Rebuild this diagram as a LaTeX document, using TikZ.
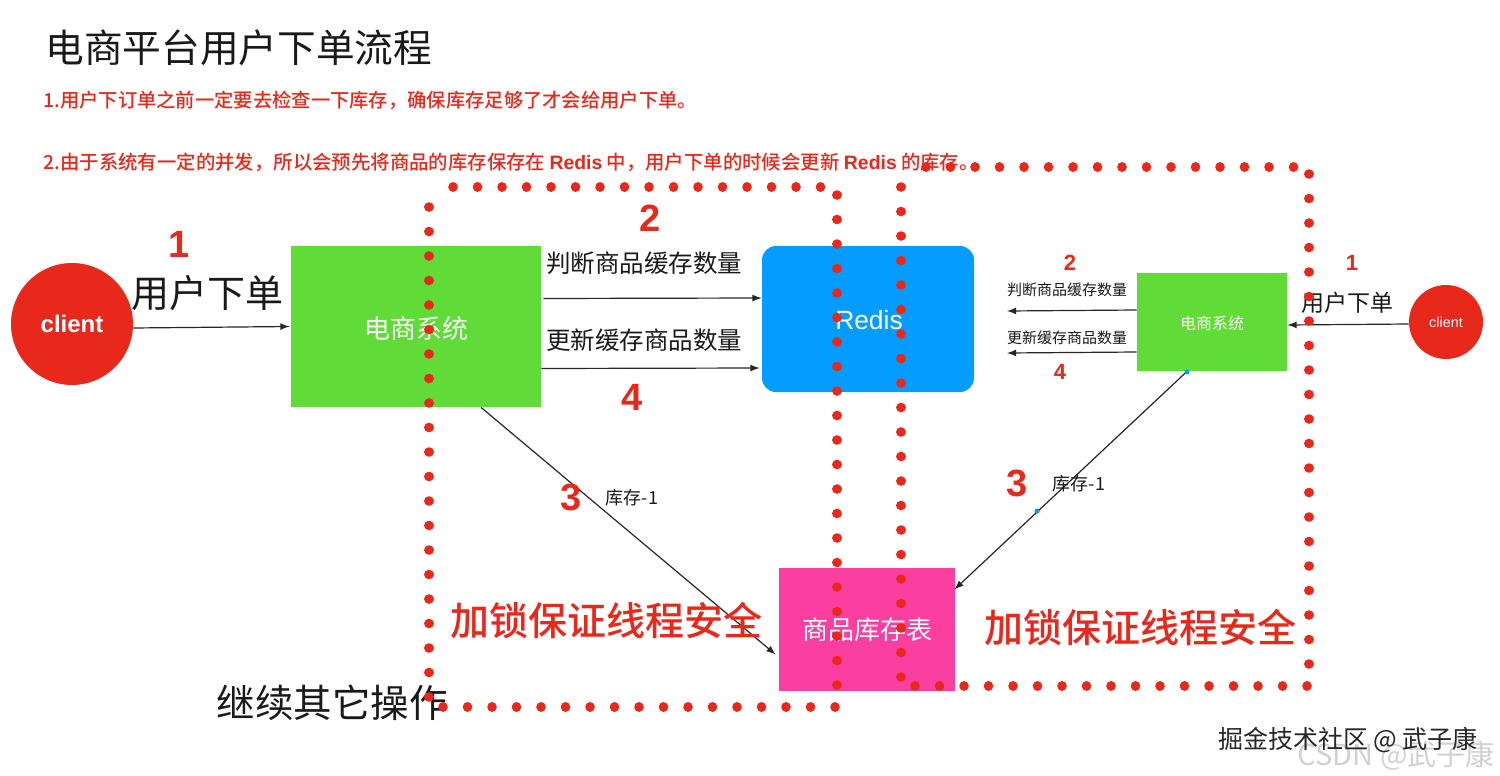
\documentclass[tikz,border=0pt]{standalone}
\usepackage{fontspec}
\setmainfont{Noto Sans CJK SC}[BoldFont={* Medium}]
\newfontfamily\latinsans{Liberation Sans}
\definecolor{lockred}{HTML}{E9281C}
\definecolor{sysgreen}{HTML}{61DB38}
\definecolor{redisblue}{HTML}{049DFF}
\definecolor{tablepink}{HTML}{FB3FA0}
\newcommand{\fsize}[1]{\fontsize{#1}{#1}\selectfont}
\tikzset{
  box/.style={inner sep=0pt,text=white},
  person/.style={circle,fill=lockred,inner sep=0pt,text=white},
  flow/.style={-latex,black!85,line width=0.6pt},
  lockdots/.style={lockred,line width=4.8pt,line cap=round,dash pattern=on 0.01pt off 12.24pt},
  redtext/.style={text=lockred,font=\bfseries,inner sep=0pt},
  plain/.style={inner sep=0pt,text=black!90},
}
\begin{document}
\begin{tikzpicture}[x=0.5pt,y=-0.5pt]
    \useasboundingbox (0,0) rectangle (1500,776);

    \node[plain,anchor=west,font=\fsize{19.35}] (title) at (45,48) {电商平台用户下单流程};
    \node[redtext,anchor=west,font=\fsize{9.65}\bfseries] (note1) at (43,100) {1.用户下订单之前一定要去检查一下库存，确保库存足够了才会给用户下单。};
    \node[redtext,anchor=west,font=\fsize{9.7}\bfseries] (note2) at (43,162) {2.由于系统有一定的并发，所以会预先将商品的库存保存在 {\latinsans Redis} 中，用户下单的时候会更新 {\latinsans Redis} 的库存。};

    \node[person,minimum size=61pt,font=\latinsans\fsize{12}\bfseries] (client) at (72,324) {client};
    \node[box,fill=sysgreen,minimum width=125pt,minimum height=80.5pt,font=\fsize{13}] (sys) at (416,326.5) {};
    \node[box,font=\fsize{13}] (systext) at (416,329) {电商系统};
    \node[box,fill=redisblue,rounded corners=7pt,minimum width=106pt,minimum height=73pt] (redis) at (868,319) {};
    \node[box,font=\latinsans\fsize{13.2}] (redistext) at (869,320) {Redis};
    \node[box,fill=tablepink,minimum width=88pt,minimum height=61.5pt,font=\fsize{13}] (table) at (867,629.5) {商品库存表};
    \node[box,fill=sysgreen,minimum width=75pt,minimum height=49pt] (rsys) at (1212,322) {};
    \node[box,font=\fsize{8}] (rsystext) at (1212,323) {电商系统};
    \node[person,minimum size=37pt,font=\latinsans\fsize{7.2}] (rclient) at (1446,322) {client};

    \coordinate (rleft1) at (1007,311);
    \coordinate (rleft2) at (1007,353);

    \draw[flow] ([yshift=-2pt]client.east) -- ([xshift=-0.5pt]sys.west);
    \draw[flow] ([shift={(2,-28)}]sys.east) -- ([shift={(0,-21)}]redis.west);
    \draw[flow] ([shift={(0,42)}]sys.east) -- ([shift={(-2,49)}]redis.west);
    \draw[flow] ([xshift=32.5pt]sys.south) -- ([shift={(-3,25)}]table.west);
    \draw[flow] ([yshift=-1pt]rclient.west) -- ([yshift=-1.5pt]rsys.east);
    \draw[flow] ([yshift=6pt]rsys.west) -- (rleft1);
    \draw[flow] ([yshift=-15pt]rsys.west) -- (rleft2);
    \draw[flow] ([xshift=-12.5pt]rsys.south) -- ([shift={(-1,-40)}]table.east);

    \fill[redisblue] (1187,372) circle (2.5) (1037,511) circle (2.5);

    \node[redtext,font=\latinsans\fsize{19}\bfseries] (num1) at (179,244) {1};
    \node[plain,font=\fsize{19}] (order) at (207,293) {用户下单};
    \node[redtext,font=\latinsans\fsize{19}\bfseries] (num2) at (650,218) {2};
    \node[plain,font=\fsize{12.25}] (check) at (644,263) {判断商品缓存数量};
    \node[plain,font=\fsize{12.25}] (update) at (644,340) {更新缓存商品数量};
    \node[redtext,font=\latinsans\fsize{19}\bfseries] (num4) at (632,397) {4};
    \node[redtext,font=\latinsans\fsize{19}\bfseries] (num3) at (571,497) {3};
    \node[plain,font=\fsize{9}] (stock) at (632,498) {库存-1};
    \node[redtext,font=\fsize{19.5}\bfseries] (lock) at (606,620) {加锁保证线程安全};
    \node[plain,font=\fsize{19.25}] (other) at (332,703) {继续其它操作};

    \node[redtext,font=\latinsans\fsize{11}\bfseries] (rnum2) at (1070,263) {2};
    \node[plain,font=\fsize{7.5}] (rcheck) at (1067,290) {判断商品缓存数量};
    \node[plain,font=\fsize{7.5}] (rupdate) at (1067,338) {更新缓存商品数量};
    \node[redtext,font=\latinsans\fsize{11}\bfseries] (rnum4) at (1060,372) {4};
    \node[redtext,font=\latinsans\fsize{11}\bfseries] (rnum1) at (1352,263) {1};
    \node[plain,font=\fsize{11.5}] (rorder) at (1347,303) {用户下单};
    \node[redtext,font=\latinsans\fsize{19}\bfseries] (rnum3) at (1017,483) {3};
    \node[plain,font=\fsize{9}] (rstock) at (1079,484) {库存-1};
    \node[redtext,font=\fsize{19.5}\bfseries] (rlock) at (1140,627) {加锁保证线程安全};

    \coordinate (a1) at (453,187);
    \coordinate (a2) at (821,187);
    \coordinate (a3) at (837,195);
    \coordinate (a4) at (837,686);
    \coordinate (a5) at (443,707);
    \coordinate (a6) at (836,707);
    \coordinate (a7) at (429,207);
    \coordinate (a8) at (429,698);
    \draw[lockdots] (a1) -- (a2);
    \draw[lockdots] (a3) -- (a4);
    \draw[lockdots] (a5) -- (a6);
    \draw[lockdots] (a7) -- (a8);

    \coordinate (b1) at (926,167);
    \coordinate (b2) at (1294,167);
    \coordinate (b3) at (1309,174);
    \coordinate (b4) at (1309,665);
    \coordinate (b5) at (915,686);
    \coordinate (b6) at (1308,686);
    \coordinate (b7) at (901,187);
    \coordinate (b8) at (901,678);
    \draw[lockdots] (b1) -- (b2);
    \draw[lockdots] (b3) -- (b4);
    \draw[lockdots] (b5) -- (b6);
    \draw[lockdots] (b7) -- (b8);

    \node[inner sep=0pt,text=black!18,font=\fsize{14.5}] (csdn) at (1396,756) {CSDN @武子康};
    \node[inner sep=0pt,text=black!85,font=\fsize{12.5}] (mark) at (1348,740) {掘金技术社区 @ 武子康};
\end{tikzpicture}
\end{document}
